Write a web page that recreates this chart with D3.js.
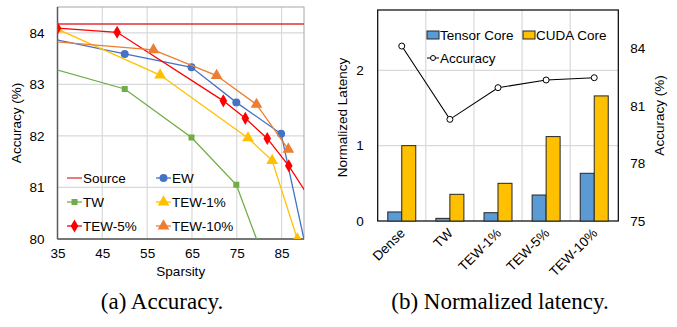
<!DOCTYPE html>
<html><head><meta charset="utf-8">
<script src="https://cdn.jsdelivr.net/npm/d3@7"></script>
<style>body{margin:0;background:#fff}svg{display:block}text{font-family:"Liberation Sans",Arial,sans-serif}</style>
</head><body><svg id="c" width="677" height="327"></svg>
<script>
// ---- Data: (a) Accuracy vs sparsity ----
const sparsityTicks = [35, 45, 55, 65, 75, 85];
const accTicks = [80, 81, 82, 83, 84];
const sourceAcc = 84.17;
const ewX = [30, 50, 64.9, 74.9, 84.9, 91];
const ewY = [83.95, 83.59, 83.33, 82.65, 82.04, 79.59];
const twX = [30, 50, 64.9, 74.9, 85];
const twY = [83.40, 82.91, 81.97, 81.05, 78.7];
const tew1X = [35, 57.9, 77.5, 82.9, 88.5];
const tew1Y = [84.07, 83.18, 81.96, 81.52, 80.0];
const tew5X = [35, 48.3, 72.0, 76.9, 81.8, 86.6, 93];
const tew5Y = [84.09, 84.01, 82.68, 82.34, 81.95, 81.42, 80.56];
const tew10X = [30, 56.4, 70.5, 79.4, 86.5];
const tew10Y = [83.86, 83.67, 83.17, 82.61, 81.74];

// ---- Data: (b) Normalized latency ----
const methods = ["Dense", "TW", "TEW-1%", "TEW-5%", "TEW-10%"];
const tensorCore = [0.12, 0.035, 0.11, 0.345, 0.633];
const cudaCore = [1.0, 0.354, 0.50, 1.12, 1.66];
const methodAcc = [84.12, 80.30, 81.95, 82.35, 82.47];
const latTicks = [0, 1, 2];
const rAccTicks = [75, 78, 81, 84];

const svg = d3.select("#c");
const grid = "#d9d9d9";
const fs = 13.5;
const fmt = d3.format("d");

// ================= (a) =================
const xA = d3.scaleLinear().domain([35, 90]).range([57.5, 304]);
const yA = d3.scaleLinear().domain([80, 84.5]).range([239, 7]);
const gA = svg.append("g");
gA.append("clipPath").attr("id", "clipA").append("rect")
  .attr("x", xA(35)).attr("y", yA(84.5)).attr("width", xA(90) - xA(35)).attr("height", yA(80) - yA(84.5));
gA.selectAll(".vg").data(sparsityTicks.slice(1)).join("line")
  .attr("x1", d => xA(d)).attr("x2", d => xA(d)).attr("y1", yA(84.5)).attr("y2", yA(80))
  .attr("stroke", grid).attr("stroke-width", 1.2);
gA.selectAll(".hg").data(accTicks.slice(1)).join("line")
  .attr("x1", xA(35)).attr("x2", xA(90)).attr("y1", d => yA(d)).attr("y2", d => yA(d))
  .attr("stroke", grid).attr("stroke-width", 1.2);
gA.append("rect").attr("x", xA(35)).attr("y", yA(84.5)).attr("width", xA(90) - xA(35)).attr("height", yA(80) - yA(84.5))
  .attr("fill", "none").attr("stroke", "#a6a6a6").attr("stroke-width", 1);
const axLA = gA.append("g").attr("transform", `translate(${xA(35)},0)`)
  .call(d3.axisLeft(yA).tickValues(accTicks).tickFormat(fmt).tickSize(0).tickPadding(13));
const axBA = gA.append("g").attr("transform", `translate(0,${yA(80)})`)
  .call(d3.axisBottom(xA).tickValues(sparsityTicks).tickFormat(fmt).tickSize(0).tickPadding(9));
[axLA, axBA].forEach(a => {
  a.select(".domain").attr("stroke", "#595959").attr("stroke-width", 1.5);
  a.selectAll("text").attr("font-size", fs).attr("fill", "#000");
});
axLA.select(".domain").attr("d", `M0,${yA(84.5)}V${yA(80)}`);
axBA.select(".domain").attr("d", `M${xA(35)},0H${xA(90)}`);
gA.append("text").attr("transform", `translate(21,${(yA(80) + yA(84.5)) / 2}) rotate(-90)`)
  .attr("text-anchor", "middle").attr("font-size", fs).text("Accuracy (%)");
gA.append("text").attr("x", (xA(35) + xA(90)) / 2).attr("y", 276)
  .attr("text-anchor", "middle").attr("font-size", fs).text("Sparsity");

const series = [
  { name: "Source", xs: [30, 95], ys: [sourceAcc, sourceAcc], color: "#e0303a", shape: null },
  { name: "EW", xs: ewX, ys: ewY, color: "#4472c4", shape: "circle" },
  { name: "TW", xs: twX, ys: twY, color: "#70ad47", shape: "square" },
  { name: "TEW-1%", xs: tew1X, ys: tew1Y, color: "#ffc000", shape: "triangle" },
  { name: "TEW-5%", xs: tew5X, ys: tew5Y, color: "#ff0000", shape: "diamond" },
  { name: "TEW-10%", xs: tew10X, ys: tew10Y, color: "#ed7d31", shape: "triangle" }
];
const symMap = { circle: d3.symbolCircle, square: d3.symbolSquare, triangle: d3.symbolTriangle, diamond: d3.symbolDiamond };
const symSize = { circle: 50, square: 36, triangle: 60, diamond: 50 };
const plotA = gA.append("g").attr("clip-path", "url(#clipA)");
const line = d3.line().x(d => xA(d[0])).y(d => yA(d[1]));
series.forEach(s => {
  const pts = s.xs.map((x, i) => [x, s.ys[i]]);
  plotA.append("path").attr("d", line(pts)).attr("fill", "none").attr("stroke", s.color).attr("stroke-width", 1.3);
  if (s.shape) {
    plotA.selectAll(null).data(pts).join("path")
      .attr("transform", d => `translate(${xA(d[0])},${yA(d[1])})`)
      .attr("d", d3.symbol(symMap[s.shape], symSize[s.shape])).attr("fill", s.color);
  }
});
series.forEach((s, i) => {
  const col = i % 2, row = Math.floor(i / 2);
  const lx = col === 0 ? 67 : 156, ly = 178 + row * 24;
  const g = gA.append("g").attr("transform", `translate(${lx},${ly})`);
  g.append("line").attr("x1", 0).attr("x2", 15).attr("stroke", s.color).attr("stroke-width", 1.3);
  if (s.shape) g.append("path").attr("transform", "translate(7.5,0)")
    .attr("d", d3.symbol(symMap[s.shape], symSize[s.shape])).attr("fill", s.color);
  g.append("text").attr("x", 16).attr("y", 5).attr("font-size", fs).text(s.name);
});

// ================= (b) =================
const xB = d3.scaleBand().domain(methods).range([377.7, 618.3]);
const yL = d3.scaleLinear().domain([0, 2.8]).range([221, 10]);
const yR = d3.scaleLinear().domain([75, 86]).range([221, 10]);
const gB = svg.append("g");
gB.selectAll(".vg").data(methods.slice(1)).join("line")
  .attr("x1", d => xB(d)).attr("x2", d => xB(d)).attr("y1", yL(2.8)).attr("y2", yL(0))
  .attr("stroke", grid).attr("stroke-width", 1.2);
gB.selectAll(".hg").data(latTicks.slice(1)).join("line")
  .attr("x1", xB.range()[0]).attr("x2", xB.range()[1]).attr("y1", d => yL(d)).attr("y2", d => yL(d))
  .attr("stroke", grid).attr("stroke-width", 1.2);
gB.append("rect").attr("x", xB.range()[0]).attr("y", yL(2.8)).attr("width", xB.range()[1] - xB.range()[0]).attr("height", yL(0) - yL(2.8))
  .attr("fill", "none").attr("stroke", "#000").attr("stroke-width", 1.2);
const bw = 14;
const bars = [
  { name: "Tensor Core", vals: tensorCore, color: "#5b9bd5", off: -bw },
  { name: "CUDA Core", vals: cudaCore, color: "#ffc000", off: 0 }
];
bars.forEach(b => {
  gB.selectAll(null).data(methods).join("rect")
    .attr("x", (d) => xB(d) + xB.bandwidth() / 2 + b.off)
    .attr("y", (d, i) => yL(b.vals[i])).attr("width", bw)
    .attr("height", (d, i) => yL(0) - yL(b.vals[i]))
    .attr("fill", b.color).attr("stroke", "#262626").attr("stroke-width", 1);
});
const accPts = methods.map((m, i) => [xB(m) + xB.bandwidth() / 2, yR(methodAcc[i])]);
gB.append("path").attr("d", d3.line()(accPts)).attr("fill", "none").attr("stroke", "#000").attr("stroke-width", 1.1);
gB.selectAll(null).data(accPts).join("circle").attr("cx", d => d[0]).attr("cy", d => d[1]).attr("r", 3)
  .attr("fill", "#fff").attr("stroke", "#000").attr("stroke-width", 1);
const axL = gB.append("g").attr("transform", `translate(${xB.range()[0]},0)`)
  .call(d3.axisLeft(yL).tickValues(latTicks).tickFormat(fmt).tickSize(0).tickPadding(14));
const axR = gB.append("g").attr("transform", `translate(${xB.range()[1]},0)`)
  .call(d3.axisRight(yR).tickValues(rAccTicks).tickFormat(fmt).tickSize(0).tickPadding(12));
const axB = gB.append("g").attr("transform", `translate(0,${yL(0)})`)
  .call(d3.axisBottom(xB).tickSize(0).tickPadding(0));
[axL, axR, axB].forEach(a => {
  a.select(".domain").remove();
  a.selectAll("text").attr("font-size", fs).attr("fill", "#000");
});
axB.selectAll("text").attr("text-anchor", "end").attr("dy", 0)
  .attr("transform", d => `translate(4,13) rotate(-45)`);
gB.append("text").attr("transform", `translate(347,${(yL(0) + yL(2.8)) / 2 + 2}) rotate(-90)`)
  .attr("text-anchor", "middle").attr("font-size", fs).text("Normalized Latency");
gB.append("text").attr("transform", `translate(664,${(yL(0) + yL(2.8)) / 2}) rotate(-90)`)
  .attr("text-anchor", "middle").attr("font-size", fs).text("Accuracy (%)");
const leg = [
  { name: "Tensor Core", color: "#5b9bd5", x: 427, y: 35 },
  { name: "CUDA Core", color: "#ffc000", x: 523, y: 35 }
];
leg.forEach(l => {
  gB.append("rect").attr("x", l.x).attr("y", l.y - 4).attr("width", 12).attr("height", 8)
    .attr("fill", l.color).attr("stroke", "#262626").attr("stroke-width", 1);
  gB.append("text").attr("x", l.x + 13).attr("y", l.y + 5).attr("font-size", fs).text(l.name);
});
gB.append("line").attr("x1", 427).attr("x2", 439).attr("y1", 58).attr("y2", 58).attr("stroke", "#000");
gB.append("circle").attr("cx", 433).attr("cy", 58).attr("r", 2.5).attr("fill", "#fff").attr("stroke", "#000");
gB.append("text").attr("x", 440).attr("y", 63).attr("font-size", fs).text("Accuracy");

// captions
svg.append("text").attr("x", 162).attr("y", 309).attr("text-anchor", "middle")
  .style("font-family", "'Liberation Serif', serif").attr("font-size", 23).text("(a) Accuracy.");
svg.append("text").attr("x", 500).attr("y", 309).attr("text-anchor", "middle")
  .style("font-family", "'Liberation Serif', serif").attr("font-size", 23).text("(b) Normalized latency.");
</script></body></html>
